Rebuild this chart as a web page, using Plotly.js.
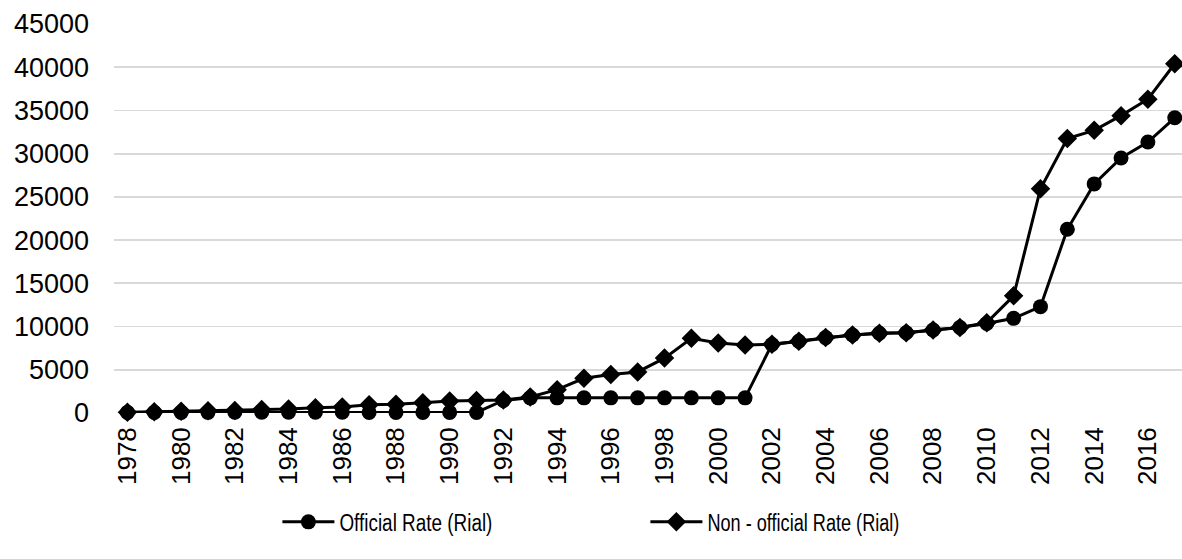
<!DOCTYPE html>
<html>
<head>
<meta charset="utf-8">
<script src="https://cdn.plot.ly/plotly-3.0.1.min.js"></script>
<style>
  html, body { margin: 0; padding: 0; background: #ffffff; }
  #chart { width: 1182px; height: 559px; }
</style>
</head>
<body>
<div id="chart"></div>
<script>
const years = [1978,1979,1980,1981,1982,1983,1984,1985,1986,1987,1988,1989,1990,1991,1992,1993,1994,1995,1996,1997,1998,1999,2000,2001,2002,2003,2004,2005,2006,2007,2008,2009,2010,2011,2012,2013,2014,2015,2016,2017];

const officialRate = [70,70,71,78,84,86,90,91,79,72,69,72,68,66,1460,1750,1750,1750,1750,1750,1750,1750,1750,1750,7930,8300,8720,9030,9220,9280,9600,9900,10350,10950,12300,21250,26500,29500,31350,34150];

const nonOfficialRate = [100,150,200,250,300,400,450,600,700,950,1000,1200,1400,1450,1500,1850,2700,4020,4450,4750,6350,8650,8100,7880,7950,8300,8720,9030,9220,9280,9600,9900,10450,13550,25950,31750,32700,34400,36300,40400];

const seriesNames = ['Official Rate (Rial)', 'Non - official Rate (Rial)'];
const yTicks = [0,5000,10000,15000,20000,25000,30000,35000,40000,45000];

const font = 'Liberation Sans, Arial, sans-serif';

const traces = [
  {
    x: years, y: officialRate, name: seriesNames[0],
    type: 'scatter', mode: 'lines+markers', cliponaxis: false,
    line: {color: '#000000', width: 3},
    marker: {symbol: 'circle', size: 15, color: '#000000'}
  },
  {
    x: years, y: nonOfficialRate, name: seriesNames[1],
    type: 'scatter', mode: 'lines+markers', cliponaxis: false,
    line: {color: '#000000', width: 3},
    marker: {symbol: 'diamond', size: 15, color: '#000000'}
  }
];

const layout = {
  width: 1182, height: 559,
  margin: {l: 114, r: 0, t: 24, b: 146},
  paper_bgcolor: '#ffffff', plot_bgcolor: '#ffffff',
  font: {family: font, size: 26, color: '#000000'},
  showlegend: true,
  legend: {
    orientation: 'h', x: 0.153, xanchor: 'left', y: -0.28, yanchor: 'middle',
    font: {family: font, size: 23, color: '#000000'},
    itemwidth: 52, entrywidth: 301, entrywidthmode: 'pixels', tracegroupgap: 0
  },
  xaxis: {
    type: 'linear', range: [1977.5, 2017.27],
    tickmode: 'linear', tick0: 1978, dtick: 2,
    tickangle: -90, ticks: '', showgrid: false, zeroline: false,
    showline: false, tickfont: {family: font, size: 26, color: '#000000'},
    ticklabelstandoff: 8
  },
  yaxis: {
    range: [0, 45000], tickvals: yTicks, ticktext: yTicks.map(String),
    showgrid: true, gridcolor: '#d9d9d9', gridwidth: 1.8,
    zeroline: false, showline: false, ticks: '',
    tickfont: {family: font, size: 27, color: '#000000'},
    ticklabelstandoff: 24
  }
};

Plotly.newPlot('chart', traces, layout, {displayModeBar: false, staticPlot: true}).then(function (gd) {
  // condense legend labels to mimic the narrow legend typeface of the original
  const targets = [153, 192];
  gd.querySelectorAll('.legendtext').forEach(function (t, i) {
    const w = t.getComputedTextLength();
    const target = targets[i] !== undefined ? Math.min(targets[i], w) : w * 0.82;
    t.setAttribute('textLength', target.toFixed(1));
    t.setAttribute('lengthAdjust', 'spacingAndGlyphs');
  });
});
</script>
</body>
</html>
